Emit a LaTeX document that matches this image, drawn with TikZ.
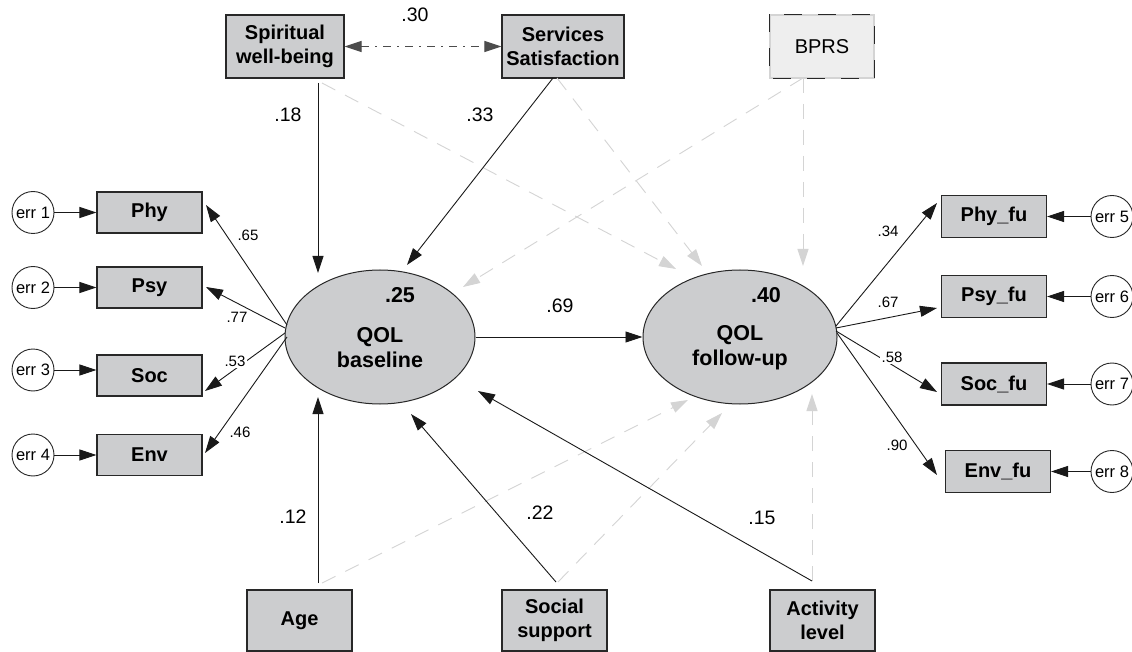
\documentclass[tikz,border=0pt]{standalone}
\usepackage{fontspec}
\setmainfont{Liberation Sans}
\usetikzlibrary{arrows.meta,shapes.geometric}
\definecolor{boxfill}{RGB}{204,205,207}
\definecolor{lightg}{RGB}{212,212,212}
\definecolor{bprsfill}{RGB}{238,238,238}
\definecolor{edge}{RGB}{40,40,40}
\begin{document}
\begin{tikzpicture}[x=1pt,y=-1pt,
  vbox/.style={draw=edge, line width=1.1pt, fill=boxfill, minimum width=105pt, minimum height=41pt, inner sep=0pt, font=\fontsize{20}{24}\selectfont\bfseries, align=center},
  topbox/.style={vbox, minimum height=63pt},
  botbox/.style={vbox, minimum height=61pt},
  errc/.style={circle, draw=edge, line width=0.9pt, fill=white, minimum size=42pt, inner sep=0pt, font=\fontsize{16.5}{17}\selectfont},
  latent/.style={ellipse, draw=edge, line width=1pt, fill=boxfill, minimum height=134pt, inner sep=0pt},
  lattext/.style={font=\fontsize{21.5}{25}\selectfont\bfseries, align=center, inner sep=0pt},
  rsq/.style={font=\fontsize{21.5}{22}\selectfont\bfseries, inner sep=0pt},
  blbl/.style={font=\fontsize{19.5}{20}\selectfont, inner sep=1pt},
  slbl/.style={font=\fontsize{15}{16}\selectfont, fill=white, inner sep=1.5pt},
  blk/.style={-{Triangle[length=17pt,width=11pt]}, line width=0.9pt, black!90},
  gry/.style={-{Triangle[length=17pt,width=11pt]}, line width=0.9pt, lightg, dash pattern=on 15pt off 11pt},
]
\useasboundingbox (0,0) rectangle (1132,652);
\fill[white] (0,0) rectangle (1132,652);

% top boxes
\node[topbox, minimum width=118pt] (spir) at (285,46.5) {Spiritual\\well-being};
\node[topbox, minimum width=122pt] (serv) at (563,46.5) {Services\\Satisfaction};
\node[topbox, minimum width=104pt, fill=bprsfill, draw=lightg, font=\fontsize{20}{24}\selectfont] (bprs) at (822,46.5) {BPRS};
\draw[edge, line width=1.2pt, dash pattern=on 18pt off 16pt] (bprs.north west) rectangle (bprs.south east);

% latent variables
\node[latent, minimum width=190pt] (qolb) at (380,337) {};
\node[latent, minimum width=194pt] (qolf) at (740,337) {};
\node[lattext] (qolbt) at (380,348) {QOL\\baseline};
\node[lattext] (qolft) at (740,348) {QOL\\follow-up};
\node[rsq] (r25) at (400,295) {.25};
\node[rsq] (r40) at (766,295) {.40};

% left indicators
\node[vbox] (phy) at (149.5,212.5) {Phy};
\node[vbox] (psy) at (149.5,287.5) {Psy};
\node[vbox] (soc) at (149.5,375.5) {Soc};
\node[vbox] (env) at (149.5,455) {Env};
\node[errc] (err1) at (33,212.5) {err 1};
\node[errc] (err2) at (33,287.5) {err 2};
\node[errc] (err3) at (33,370) {err 3};
\node[errc] (err4) at (33,455) {err 4};

% right indicators
\node[vbox, minimum height=42pt] (phyfu) at (994,216.5) {Phy\_fu};
\node[vbox, minimum height=42pt] (psyfu) at (994,296.5) {Psy\_fu};
\node[vbox, minimum height=42pt] (socfu) at (994,384) {Soc\_fu};
\node[vbox, minimum height=42pt] (envfu) at (998,471.5) {Env\_fu};
\node[errc] (err5) at (1112,216.5) {err 5};
\node[errc] (err6) at (1112,296.5) {err 6};
\node[errc] (err7) at (1112,384) {err 7};
\node[errc] (err8) at (1112,471.5) {err 8};

% bottom boxes
\node[botbox] (age) at (299.5,620.5) {Age};
\node[botbox] (soci) at (554.5,620.5) {Social\\support};
\node[botbox] (activ) at (822.5,620.5) {Activity\\level};

% connector end points
\coordinate (spA) at (318,83);
\coordinate (spB) at (322,83);
\coordinate (svA) at (553,78);
\coordinate (svB) at (557,78);
\coordinate (bpA) at (803,78);
\coordinate (agA) at (318,583);
\coordinate (agB) at (322,583);
\coordinate (scA) at (556,582);
\coordinate (scB) at (558,582);
\coordinate (acA) at (812,581);
\coordinate (qbT1) at (318,273);
\coordinate (qbT2) at (407,265);
\coordinate (qbT3) at (463,287);
\coordinate (qbB1) at (318,397);
\coordinate (qbB2) at (411,414);
\coordinate (qbB3) at (478,391);
\coordinate (qfT1) at (676,269);
\coordinate (qfT2) at (702,266);
\coordinate (qfT3) at (803,266);
\coordinate (qfB1) at (688,400);
\coordinate (qfB2) at (722,413);
\coordinate (qfB3) at (812,394);
\coordinate (qbL1) at (287,325);
\coordinate (qbL2) at (285,328);
\coordinate (qbL3) at (285,333);
\coordinate (qbL4) at (287,337);
\coordinate (qfR1) at (836,326);
\coordinate (qfR2) at (836,328);
\coordinate (qfR3) at (836,331);
\coordinate (qfR4) at (837,333);
\coordinate (phyT) at (206,205);
\coordinate (psyT) at (206,287);
\coordinate (socT) at (205,391);
\coordinate (envT) at (205,453);
\coordinate (phyfuT) at (937,203);
\coordinate (psyfuT) at (937,308);
\coordinate (socfuT) at (937,392);
\coordinate (envfuT) at (937,475);

% gray dashed (non-significant) paths
\draw[gry] (spB) -- (qfT1);
\draw[gry] (svB) -- (qfT2);
\draw[gry] (bpA) -- (qfT3);
\draw[gry] (bpA) -- (qbT3);
\draw[gry] (agB) -- (qfB1);
\draw[gry] (scB) -- (qfB2);
\draw[gry] (acA) -- (qfB3);

% covariance
\draw[{Triangle[length=17pt,width=11pt]}-{Triangle[length=17pt,width=11pt]}, line width=1pt, black!70, dash pattern=on 8pt off 6pt on 2pt off 6pt] (spir.east) -- (serv.west);

% structural paths
\draw[blk] (spA) -- (qbT1);
\draw[blk] (svA) -- (qbT2);
\draw[blk] (agA) -- (qbB1);
\draw[blk] (scA) -- (qbB2);
\draw[blk] (acA) -- (qbB3);
\draw[blk] (qolb.east) -- (qolf.west);

% loadings
\draw[blk] (qbL1) -- (phyT);
\draw[blk] (qbL2) -- (psyT);
\draw[blk] (qbL3) -- (socT);
\draw[blk] (qbL4) -- (envT);
\draw[blk] (qfR1) -- (phyfuT);
\draw[blk] (qfR2) -- (psyfuT);
\draw[blk] (qfR3) -- (socfuT);
\draw[blk] (qfR4) -- (envfuT);

% errors
\draw[blk] (err1.east) -- (phy.west);
\draw[blk] (err2.east) -- (psy.west);
\draw[blk] (err3.east) -- (err3.east -| soc.west);
\draw[blk] (err4.east) -- (env.west);
\draw[blk] (err5.west) -- (phyfu.east);
\draw[blk] (err6.west) -- (psyfu.east);
\draw[blk] (err7.west) -- (socfu.east);
\draw[blk] (err8.west) -- (envfu.east);

% labels
\node[blbl] (l30) at (415,15) {.30};
\node[blbl] (l18) at (288,115) {.18};
\node[blbl] (l33) at (480,115) {.33};
\node[blbl] (l69) at (560,306) {.69};
\node[blbl] (l12) at (293,517) {.12};
\node[blbl] (l22) at (540,513) {.22};
\node[blbl] (l15) at (762,518) {.15};
\node[slbl] (l65) at (248,235) {.65};
\node[slbl] (l77) at (237,317) {.77};
\node[slbl] (l53) at (235,361) {.53};
\node[slbl] (l46) at (240,432) {.46};
\node[slbl] (l34) at (888,231) {.34};
\node[slbl] (l67) at (888,302) {.67};
\node[slbl] (l58) at (892,357) {.58};
\node[slbl] (l90) at (897,445) {.90};
\end{tikzpicture}
\end{document}
